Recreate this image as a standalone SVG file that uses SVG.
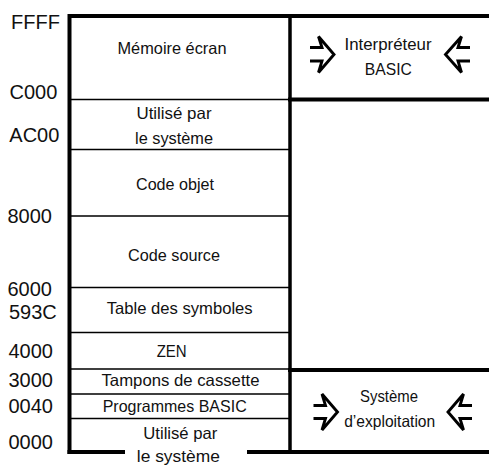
<svg xmlns="http://www.w3.org/2000/svg" width="489" height="466" viewBox="0 0 489 466">
<style>
.thick{stroke:#000;stroke-width:4;fill:none;stroke-linecap:square}
.mid{stroke:#000;stroke-width:3.5;fill:none}
.thin{stroke:#000;stroke-width:1.6;fill:none}
.addr{font-family:"Liberation Sans",Arial,sans-serif;font-size:20px;fill:#111}
.lbl{font-family:"Liberation Sans Narrow","Liberation Sans",Arial,sans-serif;font-size:16.5px;fill:#111;text-anchor:middle}
.arr{stroke:#000;stroke-width:2.9;fill:none;stroke-linejoin:miter}
</style>
<rect width="489" height="466" fill="#fff"/>
<g id="frame">
<path class="thick" d="M69.5,452 V16 H487"/>
<path class="thick" d="M69.5,452 H123"/>
<path class="thick" d="M249,452 H487"/>
<path class="mid" d="M290,16 V452"/>
<path class="thick" d="M290,99.5 H487"/>
<path class="thick" d="M290,370 H487"/>
<path class="thin" d="M71,99.5 H290 M71,149.5 H290 M71,216 H290 M71,287.5 H290 M71,332.5 H290 M71,369 H290 M71,394 H290 M71,418.5 H290"/>
</g>
<g id="addresses">
<text class="addr" x="11" y="28.5">FFFF</text>
<text class="addr" x="9.5" y="98.8">C000</text>
<text class="addr" x="9.3" y="142.3">AC00</text>
<text class="addr" x="7.5" y="222.5">8000</text>
<text class="addr" x="7.5" y="295.5">6000</text>
<text class="addr" x="9" y="319.3">593C</text>
<text class="addr" x="8.5" y="358.3">4000</text>
<text class="addr" x="8.5" y="387.3">3000</text>
<text class="addr" x="8.5" y="412.7">0040</text>
<text class="addr" x="8.5" y="448.7">0000</text>
</g>
<g id="memoire-ecran"><text class="lbl" x="172" y="53.5" textLength="109" lengthAdjust="spacingAndGlyphs">Mémoire écran</text></g>
<g id="systeme-haut"><text class="lbl" x="174" y="118.5" textLength="75" lengthAdjust="spacingAndGlyphs">Utilisé par</text><text class="lbl" x="174" y="144" textLength="78" lengthAdjust="spacingAndGlyphs">le système</text></g>
<g id="code-objet"><text class="lbl" x="175" y="190" textLength="78" lengthAdjust="spacingAndGlyphs">Code objet</text></g>
<g id="code-source"><text class="lbl" x="174" y="261" textLength="92" lengthAdjust="spacingAndGlyphs">Code source</text></g>
<g id="table-symboles"><text class="lbl" x="179.7" y="313.8" textLength="146" lengthAdjust="spacingAndGlyphs">Table des symboles</text></g>
<g id="zen"><text class="lbl" x="171.7" y="356.5" textLength="30" lengthAdjust="spacingAndGlyphs">ZEN</text></g>
<g id="tampons"><text class="lbl" x="180.5" y="386" textLength="158" lengthAdjust="spacingAndGlyphs">Tampons de cassette</text></g>
<g id="programmes-basic"><text class="lbl" x="174.7" y="411.5" textLength="144" lengthAdjust="spacingAndGlyphs">Programmes BASIC</text></g>
<g id="systeme-bas"><text class="lbl" x="180.3" y="438.5" textLength="74" lengthAdjust="spacingAndGlyphs">Utilisé par</text><text class="lbl" x="178.3" y="462" textLength="83" lengthAdjust="spacingAndGlyphs">le système</text></g>
<g id="interpreteur">
<text class="lbl" x="388" y="50" textLength="87" lengthAdjust="spacingAndGlyphs">Interpréteur</text>
<text class="lbl" x="388.3" y="75" textLength="47" lengthAdjust="spacingAndGlyphs">BASIC</text>
<polyline class="arr" points="310,47.5 322,47.5 318.5,36.5 334,54.5 318.5,72.5 322,61 310,61"/>
<polyline class="arr" points="470,47.5 458,47.5 461.5,36.5 445.5,54.5 461.5,72.5 458,61 470,61"/>
</g>
<g id="systeme-exploitation">
<text class="lbl" x="389" y="401.5" textLength="58" lengthAdjust="spacingAndGlyphs">Système</text>
<text class="lbl" x="389.7" y="426.5" textLength="91" lengthAdjust="spacingAndGlyphs">d’exploitation</text>
<polyline class="arr" points="313.5,405.5 325.5,405.5 322,394 337.5,412 322,430 325.5,418.5 313.5,418.5"/>
<polyline class="arr" points="472,405.5 460,405.5 463.5,394 448,412 463.5,430 460,418.5 472,418.5"/>
</g>
</svg>
